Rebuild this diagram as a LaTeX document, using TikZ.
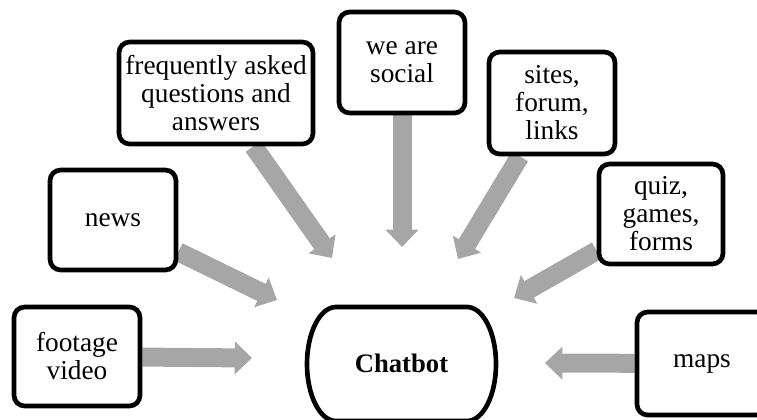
\documentclass[tikz,border=0pt]{standalone}
\usepackage{fontspec}
\setmainfont{Liberation Serif}
\usetikzlibrary{arrows.meta,backgrounds}
\definecolor{arrowgray}{HTML}{A6A6A6}
\begin{document}
\begin{tikzpicture}[x=0.75pt,y=-0.75pt,
  box/.style={draw=black,line width=3.5pt,rounded corners=8pt,fill=white,align=center,inner sep=0pt,
    font=\fontsize{20.5pt}{21pt}\selectfont},
  flow/.style={draw=arrowgray,line width=14.25pt,-{Triangle[width=24pt,length=13pt]}},
  hub/.style={draw=black,line width=3.5pt,fill=white},
]
\useasboundingbox (0,0) rectangle (757,419);
% boxes
\node[box,minimum width=145.5pt,minimum height=76.5pt] (faq) at (216,93) {frequently asked\\questions and\\answers};
\node[box,minimum width=94.5pt,minimum height=75.75pt] (social) at (402,62.5) {we are\\social};
\node[box,minimum width=94.5pt,minimum height=76.5pt] (sites) at (552,103) {sites,\\forum,\\links};
\node[box,minimum width=93pt,minimum height=75pt] (quiz) at (661,214) {quiz,\\games,\\forms};
\node[box,minimum width=94.5pt,minimum height=75pt] (news) at (113,220) {news};
\node[box,minimum width=94.5pt,minimum height=74.25pt] (footage) at (77,356.5) {footage\\video};
\node[box,minimum width=97.5pt,minimum height=77.25pt] (maps) at (702,363.5) {maps};
% central shape
\draw[hub] (336,307) -- (467,307) arc[start angle=-90,end angle=90,x radius=29,y radius=57]
  -- (336,421) arc[start angle=90,end angle=270,x radius=29,y radius=57] -- cycle;
\node[inner sep=0pt,font=\fontsize{20pt}{21pt}\selectfont\bfseries] (chatbot) at (401.5,363) {Chatbot};
% arrow tips
\coordinate (tfaq) at (332,258);
\coordinate (tsocial) at (402,247);
\coordinate (tsites) at (458,259);
\coordinate (tquiz) at (514,298);
\coordinate (tnews) at (277,300);
\coordinate (tfootage) at (252,358);
\coordinate (tmaps) at (545,363);
\begin{pgfonlayer}{background}
\draw[flow] (faq) -- (tfaq);
\draw[flow] (social) -- (tsocial);
\draw[flow] (sites) -- (tsites);
\draw[flow] (quiz) -- (tquiz);
\draw[flow] (news) -- (tnews);
\draw[flow] (footage) -- (tfootage);
\draw[flow] (maps) -- (tmaps);
\end{pgfonlayer}
\end{tikzpicture}
\end{document}
